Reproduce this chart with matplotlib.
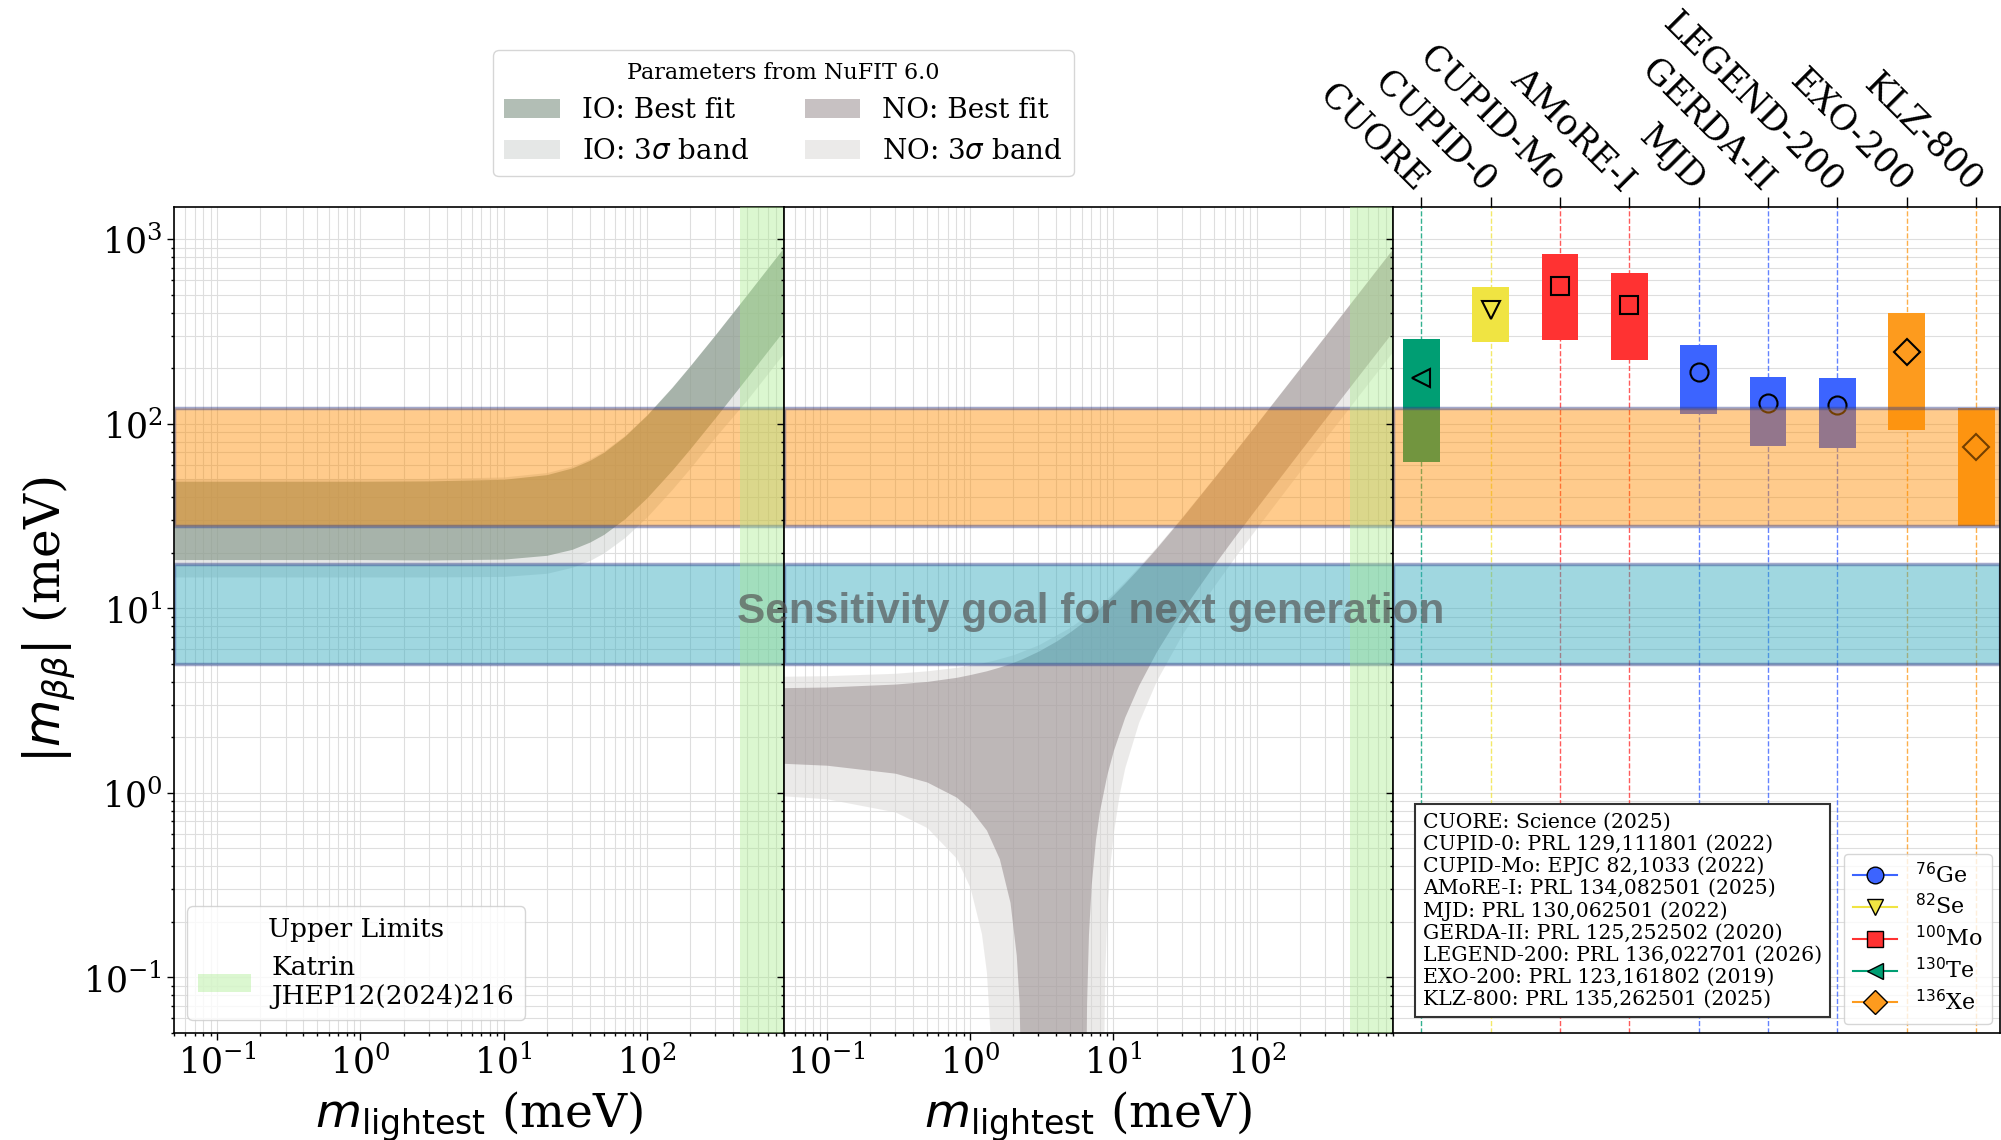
import matplotlib
matplotlib.use('Agg')
from matplotlib import pyplot as plt
from matplotlib.patches import Patch
from matplotlib.lines import Line2D

plt.rcParams['font.family'] = 'serif'
plt.rcParams['font.serif'] = ['DejaVu Serif']

# ---- IO band (meV)
m_io = [0.05, 0.1, 0.3, 1, 3, 10, 20, 30, 40, 50, 70, 100, 150, 200, 300, 500, 700, 1000]
io_bf_hi = [48.9, 48.9, 48.9, 48.9, 49.1, 50.1, 53.1, 57.7, 63.5, 70.2, 85.7, 111.6, 157.9, 206.1, 304.0, 502.3, 701.8, 1001]
io_bf_lo = [18.4, 18.4, 18.4, 18.4, 18.3, 18.5, 19.4, 20.9, 22.9, 25.2, 30.6, 39.8, 56.2, 73.3, 108.1, 178.6, 249.5, 355.5]
io_3s_hi = [50.5, 50.5, 50.5, 50.5, 50.6, 51.6, 54.5, 59.0, 64.7, 71.3, 86.6, 112.4, 158.6, 206.8, 304.6, 502.8, 702.2, 1002]
io_3s_lo = [14.8, 14.8, 14.8, 14.8, 14.8, 14.9, 15.5, 16.7, 18.2, 20.0, 24.2, 31.3, 44.2, 57.5, 84.8, 135, 188, 268]

# ---- NO band, best fit
m_no = [0.05, 0.1, 0.3, 0.5, 0.8, 1.0, 1.3, 1.6, 1.9, 2.1, 2.2, 2.3, 2.35, 3, 4, 5, 6, 6.3,
        6.4, 6.5, 6.7, 7, 7.5, 8, 9, 10, 12, 15, 20, 30, 50, 70, 100, 200, 500, 1000]
no_bf_hi = [3.72, 3.75, 3.89, 4.02, 4.23, 4.38, 4.59, 4.81, 5.03, 5.18, 5.26, 5.33, 5.37, 5.87, 6.66, 7.48, 8.31, 8.57,
            8.66, 8.74, 8.92, 9.17, 9.61, 10.05, 10.95, 11.86, 13.70, 16.51, 21.27, 30.98, 50.67, 70.51, 100.4, 200.1, 500.1, 1000]
no_bf_lo = [1.447, 1.413, 1.279, 1.146, 0.950, 0.820, 0.629, 0.440, 0.255, 0.132, 0.072, 0.012, 0.001, 0.001, 0.001, 0.001, 0.001, 0.001,
            0.022, 0.072, 0.171, 0.318, 0.56, 0.80, 1.256, 1.70, 2.576, 3.83, 5.85, 9.70, 17.1, 24.4, 35.2, 71.0, 178, 356]

# ---- NO band, 3 sigma
m_no3 = [0.05, 0.1, 0.3, 0.5, 0.8, 1.0, 1.2, 1.3, 1.4, 1.45, 2, 3, 5, 7, 8, 8.4, 8.5, 8.7, 9, 9.5, 10,
         11, 12, 15, 20, 30, 50, 70, 100, 200, 500, 1000]
no_3s_hi = [4.29, 4.32, 4.45, 4.59, 4.79, 4.92, 5.06, 5.13, 5.20, 5.23, 5.61, 6.35, 7.91, 9.57, 10.44, 10.79, 10.88, 11.05, 11.32, 11.76, 12.19,
            13.11, 14.02, 16.82, 21.56, 31.27, 51.0, 70.87, 100.8, 201.0, 502.2, 1003]
no_3s_lo = [0.964, 0.929, 0.789, 0.649, 0.444, 0.307, 0.173, 0.107, 0.040, 0.001, 0.001, 0.001, 0.001, 0.001, 0.001, 0.001, 0.024, 0.103, 0.223, 0.42, 0.611,
            0.991, 1.368, 2.412, 4.07, 7.19, 13.11, 18.87, 27.33, 55.4, 138.8, 277.6]

# ---- experimental limits (meV)
experiments = ['CUORE', 'CUPID-0', 'CUPID-Mo', 'AMoRE-I', 'MJD', 'GERDA-II', 'LEGEND-200', 'EXO-200', 'KLZ-800']
isotope = ['Te', 'Se', 'Mo', 'Mo', 'Ge', 'Ge', 'Ge', 'Xe', 'Xe']
lim_lo = [62, 277, 285, 222, 113, 76, 74, 93, 28]
lim_hi = [290, 549, 837, 658, 267, 180, 177, 398, 122]
lim_mark = [177, 414, 556, 439, 190, 130, 126, 246, 75]
refs = ['CUORE: Science (2025)',
        'CUPID-0: PRL 129,111801 (2022)',
        'CUPID-Mo: EPJC 82,1033 (2022)',
        'AMoRE-I: PRL 134,082501 (2025)',
        'MJD: PRL 130,062501 (2022)',
        'GERDA-II: PRL 125,252502 (2020)',
        'LEGEND-200: PRL 136,022701 (2026)',
        'EXO-200: PRL 123,161802 (2019)',
        'KLZ-800: PRL 135,262501 (2025)']

iso_names = ['Ge', 'Se', 'Mo', 'Te', 'Xe']
iso_labels = [r'$^{76}$Ge', r'$^{82}$Se', r'$^{100}$Mo', r'$^{130}$Te', r'$^{136}$Xe']
iso_color = {'Ge': '#3c64ff', 'Se': '#f0e442', 'Mo': '#ff3232', 'Te': '#009e73', 'Xe': '#fd9b1e'}
iso_marker = {'Ge': 'o', 'Se': 'v', 'Mo': 's', 'Te': '<', 'Xe': 'D'}

klz_band = (28, 122)
goal_band = (5.0, 17.3)
katrin = (450, 900)

io_bf_col, io_3s_col = '#778b7b', '#cdd1ce'
no_bf_col, no_3s_col = '#918587', '#d9d7d5'
green_col = '#a6eb8a'
band_edge = (0.2, 0.25, 0.55, 0.45)

fig = plt.figure(figsize=(20.01, 11.40), dpi=100)
ax1 = fig.add_axes([0.0870, 0.0939, 0.3046, 0.7246])
ax2 = fig.add_axes([0.3916, 0.0939, 0.3048, 0.7246], sharey=ax1)
ax3 = fig.add_axes([0.6964, 0.0939, 0.3033, 0.7246], sharey=ax1)

ax1.set_yscale('log')
ax1.set_ylim(0.05, 1500)

for ax in (ax1, ax2):
    ax.set_xscale('log')
    ax.set_xlim(0.05, 900)
    ax.grid(which='both', color='0.87', lw=0.8)
    ax.set_axisbelow(True)
    ax.axvspan(katrin[0], katrin[1], color=green_col, alpha=0.4, lw=0, zorder=3)
    ax.set_xlabel(r'$m_{\rm lightest}$ (meV)', fontsize=34, labelpad=6)

ax1.fill_between(m_io, io_3s_lo, io_3s_hi, color=io_3s_col, alpha=0.5, lw=0)
ax1.fill_between(m_io, io_bf_lo, io_bf_hi, color=io_bf_col, alpha=0.56, lw=0)
ax2.fill_between(m_no3, no_3s_lo, no_3s_hi, color=no_3s_col, alpha=0.5, lw=0)
ax2.fill_between(m_no, no_bf_lo, no_bf_hi, color=no_bf_col, alpha=0.5, lw=0)

for ax in (ax1, ax2, ax3):
    ax.axhspan(klz_band[0], klz_band[1], fc=(1.0, 0.55, 0.0, 0.45), ec=band_edge, lw=2.5, zorder=2)
    ax.axhspan(goal_band[0], goal_band[1], fc=(0.21, 0.67, 0.75, 0.47), ec=band_edge, lw=2.5, zorder=2)
    ax.tick_params(which='both', labelsize=25, width=1)
    ax.tick_params(which='major', length=5)
    for s in ax.spines.values():
        s.set_linewidth(1.2)

ax1.set_ylabel(r'$|m_{\beta\beta}|$ (meV)', fontsize=35)
ax2.tick_params(axis='y', labelleft=False)
ax3.tick_params(axis='y', labelleft=False)

# right panel: experimental limits
xs = list(range(len(experiments)))
cols = [iso_color[i] for i in isotope]
for x, c in zip(xs, cols):
    ax3.axvline(x, color=c, ls='--', lw=1, alpha=0.8, zorder=0.8)
ax3.bar(xs, [h - l for h, l in zip(lim_hi, lim_lo)], bottom=lim_lo, width=0.53, color=cols, zorder=1)
for x, v, iso in zip(xs, lim_mark, isotope):
    ax3.plot(x, v, marker=iso_marker[iso], ms=13, mfc='none', mec='k', mew=1.5, ls='none', zorder=1.5)
ax3.set_xlim(-0.4, 8.35)
ax3.grid(axis='y', which='both', color='0.87', lw=0.8)
ax3.set_axisbelow(True)
ax3.xaxis.tick_top()
ax3.set_xticks(xs, experiments, rotation=-45, ha='right', va='center', rotation_mode='anchor', fontsize=25)
ax3.tick_params(axis='x', length=7, pad=8)

ax3.text(0.0486, 0.029, '\n'.join(refs), transform=ax3.transAxes, fontsize=14.7, va='bottom', ha='left',
         bbox=dict(boxstyle='square,pad=0.4', fc='white', ec='0.2', lw=1.5), zorder=5)

iso_handles = [Line2D([], [], color=iso_color[n], marker=iso_marker[n], mfc=iso_color[n], mec='k', ms=12, lw=1.5)
               for n in iso_names]
ax3.legend(iso_handles, iso_labels, loc='lower right', fontsize=16, labelspacing=0.3, borderaxespad=0.4)

ax1.legend([Patch(fc=green_col, alpha=0.4)], ['Katrin\nJHEP12(2024)216'], title='Upper Limits',
           loc='lower left', fontsize=19, title_fontsize=19)

top_handles = [Patch(fc=io_bf_col, alpha=0.56), Patch(fc=io_3s_col, alpha=0.5),
               Patch(fc=no_bf_col, alpha=0.5), Patch(fc=no_3s_col, alpha=0.5)]
top_labels = ['IO: Best fit', r'IO: 3$\sigma$ band', 'NO: Best fit', r'NO: 3$\sigma$ band']
fig.legend(top_handles, top_labels, ncol=2, loc='lower center', bbox_to_anchor=(0.3916, 0.833),
           title='Parameters from NuFIT 6.0', fontsize=20, title_fontsize=16)

fig.text(0.5452, 0.463, 'Sensitivity goal for next generation', fontsize=30.5, fontweight='bold',
         family='Liberation Sans', color='0.33', alpha=0.68, ha='center', va='center')

fig.savefig('out.png', dpi=100)
